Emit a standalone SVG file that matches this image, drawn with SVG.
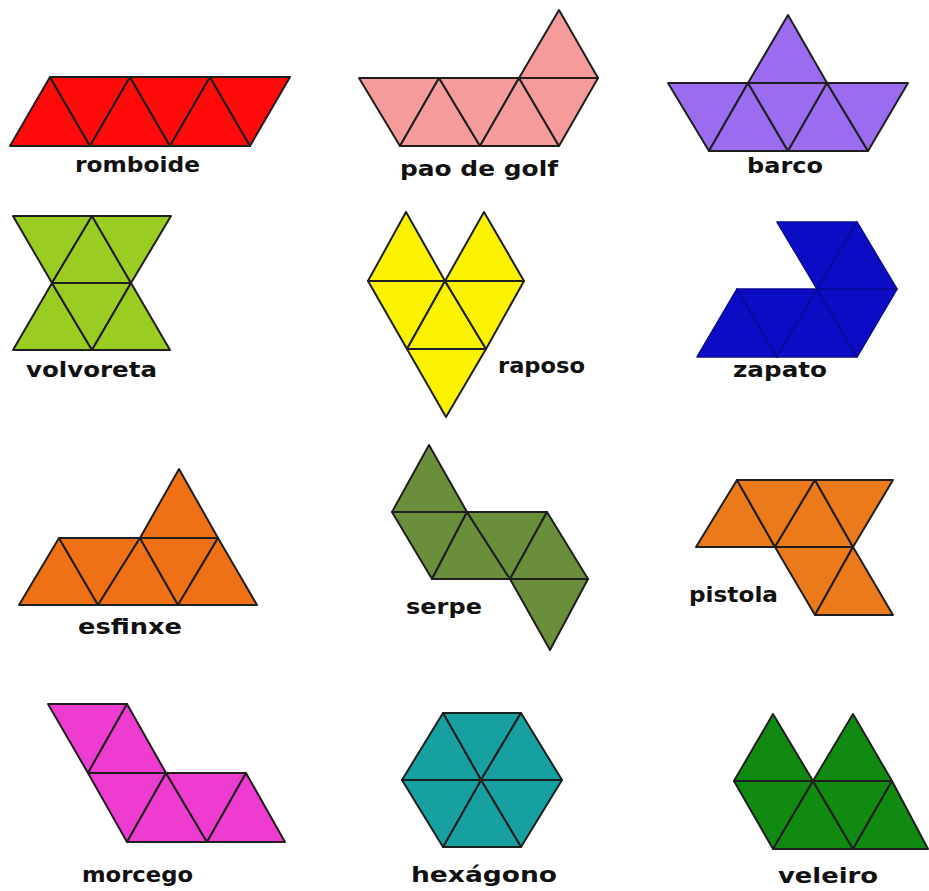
<svg xmlns="http://www.w3.org/2000/svg" width="929" height="891" viewBox="0 0 929 891">
<style>
.t{stroke:#1e1e1e;stroke-width:2;stroke-linejoin:round}
.z{stroke:#0a0a96;stroke-width:1.5;stroke-linejoin:round}
.lbl{font-family:"DejaVu Sans",sans-serif;font-weight:bold;font-size:21px;fill:#111;text-anchor:start}
</style>
<rect width="929" height="891" fill="#ffffff"/>
<g id="romboide" fill="#ff0a0a" class="t">
<polygon points="10,146 50,77 90,146"/><polygon points="50,77 130,77 90,146"/><polygon points="90,146 130,77 170,146"/><polygon points="130,77 210,77 170,146"/><polygon points="170,146 210,77 250,146"/><polygon points="210,77 290,77 250,146"/>
<text class="lbl" x="75" y="172" textLength="125" lengthAdjust="spacingAndGlyphs" stroke="none">romboide</text>
</g>
<g id="pao-de-golf" fill="#f59b9b" class="t">
<polygon points="359,78 439,78 400,146"/><polygon points="400,146 439,78 480,146"/><polygon points="439,78 519,78 480,146"/><polygon points="480,146 519,78 559,146"/><polygon points="519,78 598,78 559,146"/><polygon points="519,78 559,10 598,78"/>
<text class="lbl" x="400" y="176" textLength="158" lengthAdjust="spacingAndGlyphs" stroke="none">pao de golf</text>
</g>
<g id="barco" fill="#9b6bf0" class="t">
<polygon points="668,83 748,83 709,151"/><polygon points="709,151 748,83 788,151"/><polygon points="748,83 827,83 788,151"/><polygon points="788,151 827,83 868,151"/><polygon points="827,83 908,83 868,151"/><polygon points="748,83 788,15 827,83"/>
<text class="lbl" x="747" y="173" textLength="76" lengthAdjust="spacingAndGlyphs" stroke="none">barco</text>
</g>
<g id="volvoreta" fill="#9bcc22" class="t">
<polygon points="13,216 92,216 52,283"/><polygon points="52,283 92,216 131,283"/><polygon points="92,216 171,216 131,283"/><polygon points="13,350 52,283 92,350"/><polygon points="52,283 131,283 92,350"/><polygon points="92,350 131,283 170,350"/>
<text class="lbl" x="26" y="377" textLength="131" lengthAdjust="spacingAndGlyphs" stroke="none">volvoreta</text>
</g>
<g id="raposo" fill="#fbf200" class="t">
<polygon points="368,281 406,212 445,281"/><polygon points="445,281 484,212 524,281"/><polygon points="368,281 445,281 407,349"/><polygon points="407,349 445,281 486,349"/><polygon points="445,281 524,281 486,349"/><polygon points="407,349 486,349 446,417"/>
<text class="lbl" x="498" y="373" textLength="87" lengthAdjust="spacingAndGlyphs" stroke="none">raposo</text>
</g>
<g id="zapato" fill="#0c0cc4" class="z">
<polygon points="777,222 857,222 817,289"/><polygon points="817,289 857,222 897,289"/><polygon points="697,357 737,289 777,357"/><polygon points="737,289 817,289 777,357"/><polygon points="777,357 817,289 857,357"/><polygon points="817,289 897,289 857,357"/>
<text class="lbl" x="733" y="377" textLength="94" lengthAdjust="spacingAndGlyphs" stroke="none">zapato</text>
</g>
<g id="esfinxe" fill="#f07016" class="t">
<polygon points="19,605 59,538 98,605"/><polygon points="59,538 140,538 98,605"/><polygon points="98,605 140,538 178,605"/><polygon points="140,538 218,538 178,605"/><polygon points="178,605 218,538 257,605"/><polygon points="140,538 179,469 218,538"/>
<text class="lbl" x="78" y="634" textLength="104" lengthAdjust="spacingAndGlyphs" stroke="none">esfinxe</text>
</g>
<g id="serpe" fill="#6b8e3d" class="t">
<polygon points="392,512 429,445 467,512"/><polygon points="392,512 467,512 432,579"/><polygon points="432,579 467,512 510,579"/><polygon points="467,512 547,512 510,579"/><polygon points="510,579 547,512 588,579"/><polygon points="510,579 588,579 550,650"/>
<text class="lbl" x="406" y="614" textLength="76" lengthAdjust="spacingAndGlyphs" stroke="none">serpe</text>
</g>
<g id="pistola" fill="#ea7a1a" class="t">
<polygon points="696,547 737,480 775,547"/><polygon points="737,480 815,480 775,547"/><polygon points="775,547 815,480 853,547"/><polygon points="815,480 893,480 853,547"/><polygon points="775,547 853,547 815,615"/><polygon points="815,615 853,547 893,615"/>
<text class="lbl" x="689" y="602" textLength="89" lengthAdjust="spacingAndGlyphs" stroke="none">pistola</text>
</g>
<g id="morcego" fill="#ef3cd0" class="t">
<polygon points="48,704 127,704 88,773"/><polygon points="88,773 127,704 166,773"/><polygon points="88,773 166,773 127,842"/><polygon points="127,842 166,773 207,842"/><polygon points="166,773 246,773 207,842"/><polygon points="207,842 246,773 285,842"/>
<text class="lbl" x="82" y="882" textLength="111" lengthAdjust="spacingAndGlyphs" stroke="none">morcego</text>
</g>
<g id="hexagono" fill="#17a0a0" class="t">
<polygon points="443,713 521,713 481,780"/><polygon points="521,713 562,780 481,780"/><polygon points="562,780 521,847 481,780"/><polygon points="521,847 443,847 481,780"/><polygon points="443,847 402,780 481,780"/><polygon points="402,780 443,713 481,780"/>
<text class="lbl" x="411" y="882" textLength="146" lengthAdjust="spacingAndGlyphs" stroke="none">hexágono</text>
</g>
<g id="veleiro" fill="#118a11" class="t">
<polygon points="734,781 773,714 813,781"/><polygon points="813,781 853,714 892,781"/><polygon points="734,781 813,781 773,849"/><polygon points="773,849 813,781 853,849"/><polygon points="813,781 892,781 853,849"/><polygon points="853,849 892,781 928,849"/>
<text class="lbl" x="778" y="883" textLength="100" lengthAdjust="spacingAndGlyphs" stroke="none">veleiro</text>
</g>
</svg>
